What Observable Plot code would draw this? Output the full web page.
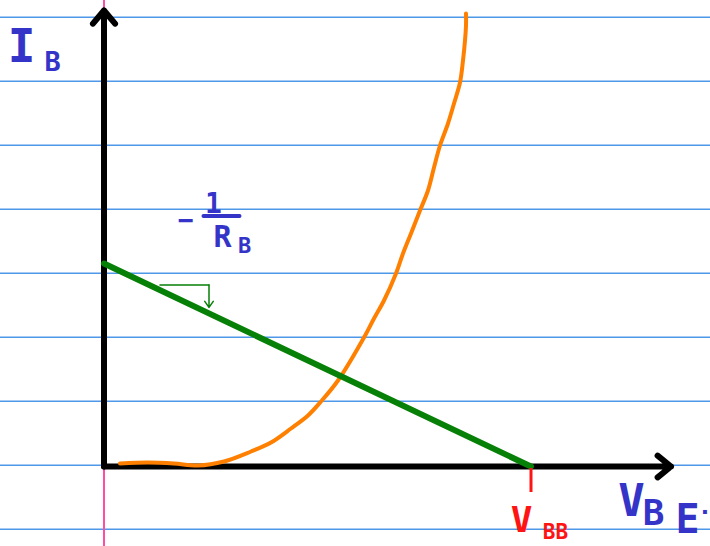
<!DOCTYPE html>
<html>
<head>
<meta charset="utf-8">
<script src="https://cdn.jsdelivr.net/npm/d3@7"></script>
<script src="https://cdn.jsdelivr.net/npm/@observablehq/plot@0.6"></script>
<style>
  html, body { margin: 0; padding: 0; background: #ffffff; }
  #chart svg { display: block; }
</style>
</head>
<body>
<div id="chart"></div>
<script>
// --- data (arbitrary units, origin at the axes' intersection) ---
// ruled notebook lines (I_B values)
const paperLines = [449.3, 385.3, 321.3, 257.3, 193.3, 129.3, 65.3, 1.3, -62.7];
// input characteristic of the base–emitter junction: V_BE -> I_B
const diodeVBE = [16, 44, 70, 94, 120, 147, 167, 187, 204, 217, 234, 260, 270, 280, 292, 299, 307, 316, 324, 330, 336, 344, 350, 356, 359, 361, 362, 362];
const diodeIB  = [3, 4, 3, 1, 5, 15, 24, 38, 51, 65, 86, 129, 148, 166, 193, 213, 233, 256, 276, 299, 321, 343, 363, 384, 406, 426, 441, 453];
// load line: I_B = (V_BB - V_BE) / R_B
const VBB = 427;           // x-intercept
const IB0 = 203;           // y-intercept = V_BB / R_B
const axisEnds = {x: 567, y: 456};
const slopeMarker = [56, 105]; // V_BE positions of the slope triangle

const diode = diodeVBE.map((v, i) => ({v, i: diodeIB[i]}));
const loadLine = [{v: 0, i: IB0}, {v: VBB, i: 0}];
const load = v => IB0 * (1 - v / VBB);
const triY = load(slopeMarker[0]) + 5;

const blue = "#3434c8", red = "#ff1414", green = "#078007", orange = "#ff8000";
const font = "'DejaVu Sans Mono', monospace";
const txt = (s, x, y, size, fill, family = font) =>
  Plot.text([s], {x, y, text: d => d, fontSize: size, fill, fontWeight: "bold", fontFamily: family});

const chart = Plot.plot({
  width: 710,
  height: 546,
  margin: 0,
  style: {background: "#ffffff", overflow: "visible"},
  x: {domain: [-103.5, 606.5], range: [0, 710], axis: null},
  y: {domain: [-80, 466], range: [546, 0], axis: null},
  marks: [
    Plot.ruleY(paperLines, {stroke: "#4f97e8", strokeWidth: 1.5}),
    Plot.ruleX([0], {stroke: "#ff4da6", strokeWidth: 2}),
    // axes
    Plot.arrow([{x1: 0, y1: 0, x2: 0, y2: axisEnds.y}], {
      x1: "x1", y1: "y1", x2: "x2", y2: "y2", stroke: "#000", strokeWidth: 6,
      headLength: 4.3, headAngle: 80, strokeLinecap: "round", strokeLinejoin: "round"}),
    Plot.arrow([{x1: 0, y1: 0, x2: axisEnds.x, y2: 0}], {
      x1: "x1", y1: "y1", x2: "x2", y2: "y2", stroke: "#000", strokeWidth: 6,
      headLength: 4.3, headAngle: 78, strokeLinecap: "round", strokeLinejoin: "round"}),
    // diode curve
    Plot.line(diode, {x: "v", y: "i", stroke: orange, strokeWidth: 4, curve: "catmull-rom",
      strokeLinecap: "round", strokeLinejoin: "round"}),
    // load line
    Plot.line(loadLine, {x: "v", y: "i", stroke: green, strokeWidth: 6, strokeLinecap: "round"}),
    // slope triangle
    Plot.line([{v: slopeMarker[0], i: triY}, {v: slopeMarker[1], i: triY}],
      {x: "v", y: "i", stroke: green, strokeWidth: 1.5}),
    Plot.arrow([{x1: slopeMarker[1], y1: triY, x2: slopeMarker[1], y2: load(slopeMarker[1]) + 6}], {
      x1: "x1", y1: "y1", x2: "x2", y2: "y2", stroke: green, strokeWidth: 1.5, headLength: 8, headAngle: 70}),
    // V_BB tick
    Plot.ruleX([VBB], {y1: -2, y2: -26, stroke: red, strokeWidth: 3}),
    // labels
    txt("I", -82.5, 419, 46, blue),
    txt("B", -51.5, 404, 27, blue),
    txt("−", 81.5, 246, 26, blue),
    txt("1", 109.5, 262, 28, blue),
    Plot.ruleY([250.5], {x1: 100, x2: 136, stroke: blue, strokeWidth: 4, strokeLinecap: "round"}),
    txt("R", 118.5, 229, 30, blue),
    txt("B", 140.5, 221, 22, blue),
    txt("V", VBB - 9.5, -54, 36, red),
    txt("BB", VBB + 24.5, -66, 21, red),
    txt("V", 527.5, -35, 44, blue),
    txt("B", 549.5, -47, 36, blue),
    txt("E", 583.5, -54, 40, blue),
    txt(".", 601, -40, 22, blue, "'DejaVu Sans', sans-serif")
  ]
});
document.getElementById("chart").appendChild(chart);
</script>
</body>
</html>
